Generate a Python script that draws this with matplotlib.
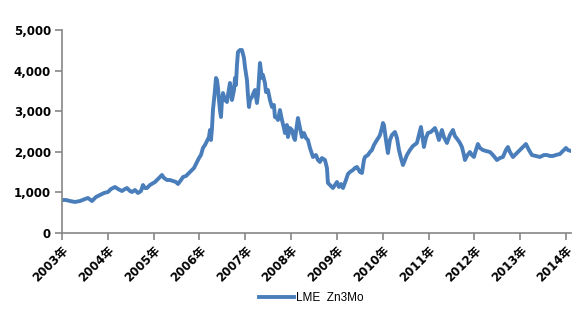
import matplotlib.pyplot as plt
from matplotlib.ticker import FuncFormatter

# LME zinc 3-month price, USD/t (sampled along the time axis)
dates = [
    2003.000, 2003.087, 2003.175, 2003.284, 2003.393, 2003.502, 2003.567, 2003.655,
    2003.742, 2003.829, 2003.917, 2004.004, 2004.069, 2004.157, 2004.222, 2004.309,
    2004.375, 2004.419, 2004.484, 2004.528, 2004.593, 2004.659, 2004.724, 2004.768,
    2004.811, 2004.855, 2004.920, 2005.030, 2005.095, 2005.182, 2005.226, 2005.292,
    2005.357, 2005.422, 2005.488, 2005.532, 2005.597, 2005.641, 2005.706, 2005.793,
    2005.881, 2005.946, 2005.990, 2006.033, 2006.077, 2006.121, 2006.164, 2006.208,
    2006.230, 2006.252, 2006.274, 2006.295, 2006.317, 2006.339, 2006.361, 2006.383,
    2006.405, 2006.426, 2006.448, 2006.470, 2006.492, 2006.514, 2006.557, 2006.601,
    2006.623, 2006.666, 2006.710, 2006.754, 2006.776, 2006.797, 2006.819, 2006.841,
    2006.885, 2006.928, 2006.972, 2006.994, 2007.037, 2007.059, 2007.081, 2007.103,
    2007.146, 2007.190, 2007.212, 2007.255, 2007.277, 2007.321, 2007.364, 2007.386,
    2007.430, 2007.452, 2007.495, 2007.539, 2007.583, 2007.626, 2007.648, 2007.692,
    2007.714, 2007.757, 2007.801, 2007.845, 2007.866, 2007.910, 2007.932, 2007.975,
    2008.019, 2008.063, 2008.085, 2008.106, 2008.150, 2008.194, 2008.238, 2008.281,
    2008.325, 2008.368, 2008.412, 2008.478, 2008.543, 2008.587, 2008.630, 2008.674,
    2008.740, 2008.783, 2008.805, 2008.849, 2008.914, 2008.958, 2009.002, 2009.045,
    2009.089, 2009.133, 2009.198, 2009.242, 2009.285, 2009.351, 2009.394, 2009.438,
    2009.504, 2009.547, 2009.591, 2009.613, 2009.678, 2009.722, 2009.765, 2009.809,
    2009.874, 2009.918, 2009.940, 2009.983, 2010.006, 2010.027, 2010.071, 2010.114,
    2010.158, 2010.202, 2010.267, 2010.311, 2010.355, 2010.398, 2010.442, 2010.486,
    2010.529, 2010.595, 2010.660, 2010.747, 2010.791, 2010.835, 2010.878, 2010.900,
    2010.943, 2010.987, 2011.052, 2011.140, 2011.183, 2011.227, 2011.293, 2011.336,
    2011.402, 2011.467, 2011.533, 2011.576, 2011.642, 2011.686, 2011.729, 2011.773,
    2011.795, 2011.838, 2011.904, 2011.947, 2011.991, 2012.035, 2012.078, 2012.122,
    2012.187, 2012.253, 2012.341, 2012.406, 2012.493, 2012.559, 2012.624, 2012.690,
    2012.733, 2012.777, 2012.843, 2012.908, 2012.995, 2013.061, 2013.126, 2013.192,
    2013.257, 2013.344, 2013.432, 2013.519, 2013.584, 2013.650, 2013.715, 2013.781,
    2013.868, 2013.934, 2013.999, 2014.043, 2014.109,
]
prices = [
    813, 813, 788, 764, 788, 837, 862, 788,
    887, 936, 985, 1010, 1084, 1133, 1084, 1034,
    1084, 1108, 1034, 1010, 1059, 985, 1034, 1182,
    1108, 1108, 1182, 1256, 1330, 1429, 1355, 1305,
    1305, 1281, 1256, 1207, 1305, 1379, 1404, 1502,
    1601, 1749, 1847, 1921, 2094, 2167, 2266, 2364,
    2537, 2291, 2586, 3029, 3276, 3522, 3818, 3768,
    3571, 3276, 3029, 2857, 3276, 3448, 3276, 3227,
    3399, 3695, 3276, 3522, 3818, 3645, 4138, 4458,
    4507, 4507, 4310, 4089, 3768, 3399, 3103, 3276,
    3350, 3473, 3522, 3202, 3399, 4187, 3818, 3892,
    3695, 3473, 3522, 3276, 3103, 3153, 2857, 2832,
    2783, 3029, 2783, 2586, 2463, 2660, 2364, 2586,
    2537, 2340, 2291, 2488, 2832, 2586, 2364, 2463,
    2340, 2291, 2094, 1872, 1921, 1798, 1749, 1847,
    1798, 1601, 1232, 1182, 1108, 1182, 1256, 1133,
    1207, 1108, 1305, 1453, 1502, 1552, 1601, 1626,
    1502, 1478, 1798, 1872, 1921, 1995, 2044, 2167,
    2291, 2364, 2414, 2586, 2709, 2660, 2291, 1970,
    2291, 2414, 2488, 2340, 2044, 1847, 1675, 1798,
    1921, 2044, 2143, 2217, 2414, 2611, 2291, 2118,
    2340, 2463, 2488, 2586, 2463, 2291, 2537, 2364,
    2217, 2414, 2537, 2389, 2291, 2217, 2118, 1921,
    1798, 1897, 1995, 1921, 1872, 2044, 2192, 2094,
    2044, 2020, 1995, 1921, 1798, 1847, 1872, 2044,
    2118, 1995, 1872, 1946, 2044, 2118, 2192, 2044,
    1921, 1897, 1872, 1921, 1921, 1897, 1897, 1921,
    1946, 2020, 2094, 2044, 2020,
]
years = list(range(2003, 2015))
year_labels = [f"{y}年" for y in years]
series_name = "LME  Zn3Mo"

grey = "#868686"
fonts = ["DejaVu Sans", "Noto Sans CJK SC"]

fig = plt.figure(figsize=(5.79, 3.23), dpi=100)
ax = fig.add_axes([62 / 579, 1 - 233 / 323, (571 - 62) / 579, 203 / 323])

ax.plot(dates, prices, color="#4a7ebb", lw=2.8, solid_joinstyle="round",
        label=series_name)

ax.set_xlim(2003, 2014.11)
ax.set_ylim(0, 5000)
ax.set_yticks(range(0, 5001, 1000))
ax.yaxis.set_major_formatter(FuncFormatter(lambda v, _: f"{int(v):,}"))
ax.set_xticks(years)
ax.set_xticklabels(year_labels, rotation=45, ha="right", rotation_mode="anchor",
                   family=fonts, fontweight="bold", fontsize=8.5)
for lab in ax.get_yticklabels():
    lab.set_family("DejaVu Sans")
    lab.set_fontweight("bold")
    lab.set_fontsize(8.5)

for side in ("top", "right"):
    ax.spines[side].set_visible(False)
for side in ("left", "bottom"):
    ax.spines[side].set_color(grey)
    ax.spines[side].set_linewidth(1.2)
ax.tick_params(axis="both", color=grey, length=5, width=1.2, pad=3)

leg = ax.legend(loc="upper center", bbox_to_anchor=(0.49, -0.24), frameon=False,
                handlelength=2.9, handletextpad=0.2,
                prop={"family": "Liberation Sans", "size": 8.5})

fig.savefig("out.png", dpi=100)
